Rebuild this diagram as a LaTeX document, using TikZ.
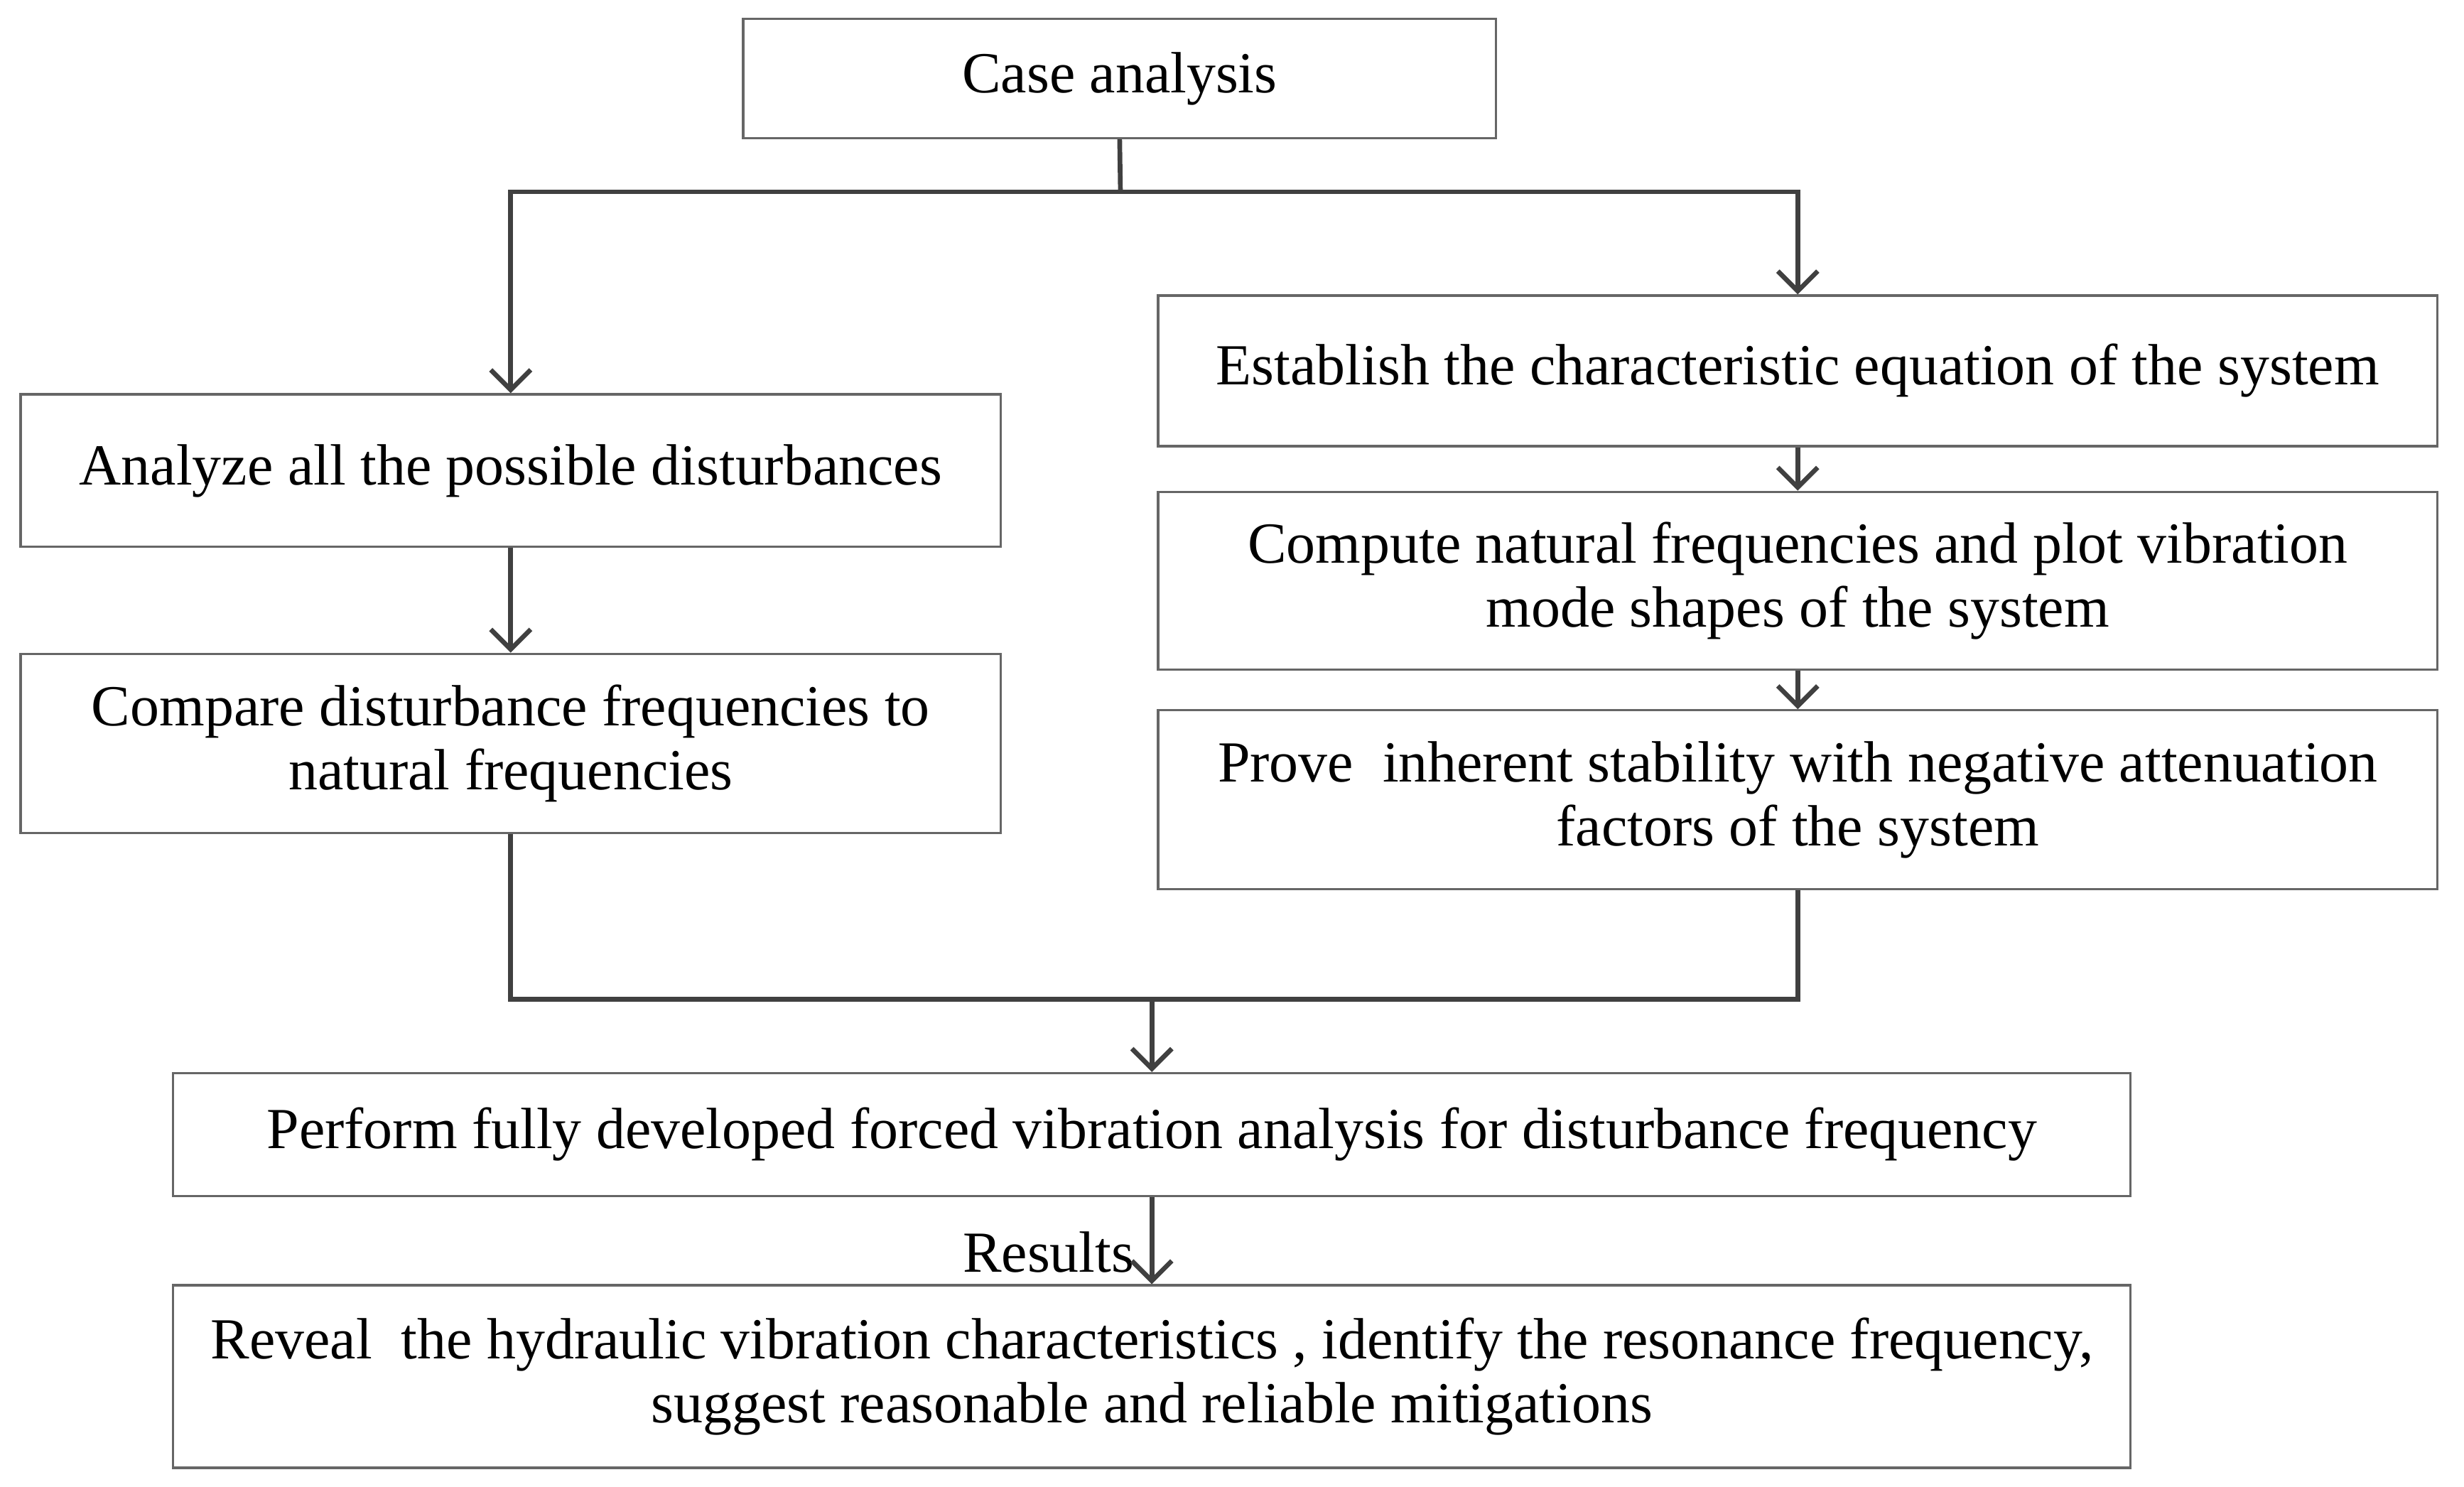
\documentclass[tikz,border=0pt]{standalone}
\usepackage{fontspec}
\setmainfont{Liberation Serif}
\usetikzlibrary{arrows.meta}
\begin{document}
\begin{tikzpicture}[x=0.02212cm,y=-0.02212cm,
 box/.style={draw=black!60,line width=0.9pt,align=center,inner sep=0pt,
   font=\fontsize{23.3}{25.5}\selectfont},
 ln/.style={draw=black!75,line width=1.9pt},
 arr/.style={ln,-{Straight Barb[length=8pt,width=16pt,line width=1.9pt]}}]
\useasboundingbox (0,0) rectangle (1568,946);
\node[box,minimum width=10.60cm,minimum height=1.68cm] (case) at (712.5,50) {Case analysis};
\node[box,minimum width=13.80cm,minimum height=2.15cm] (la) at (325,299.5) {Analyze all the possible disturbances};
\node[box,minimum width=13.80cm,minimum height=2.52cm] (lb) at (325,473) {Compare disturbance frequencies to\\natural frequencies};
\node[box,minimum width=18.01cm,minimum height=2.12cm] (r1) at (1144,236) {Establish the characteristic equation of the system};
\node[box,minimum width=18.01cm,minimum height=2.50cm] (r2) at (1144,369.5) {Compute natural frequencies and plot vibration\\mode shapes of the system};
\node[box,minimum width=18.01cm,minimum height=2.52cm] (r3) at (1144,509) {Prove\ \ inherent stability with negative attenuation\\factors of the system};
\node[box,minimum width=27.56cm,minimum height=1.73cm] (perf) at (733,722) {Perform fully developed forced vibration analysis for disturbance frequency};
\node[box,minimum width=27.56cm,minimum height=2.57cm] (rev) at (733,876) {Reveal\ \ the hydraulic vibration characteristics , identify the resonance frequency,\\suggest reasonable and reliable mitigations};
\node[anchor=east,inner sep=0pt,font=\fontsize{23.3}{25.5}\selectfont] (res) at (722,797) {Results};
\coordinate (j1) at (713,122);
\coordinate (j2) at (733,636);
\draw[ln] (case.south) -- (j1);
\draw[arr] (j1) -| (la.north);
\draw[arr] (j1) -| (r1.north);
\draw[arr] (la.south) -- (lb.north);
\draw[arr] (r1.south) -- (r2.north);
\draw[arr] (r2.south) -- (r3.north);
\draw[ln] (lb.south) |- (j2);
\draw[ln] (r3.south) |- (j2);
\draw[arr] (j2) -- (perf.north);
\draw[arr] (perf.south) -- (rev.north);
\end{tikzpicture}
\end{document}
